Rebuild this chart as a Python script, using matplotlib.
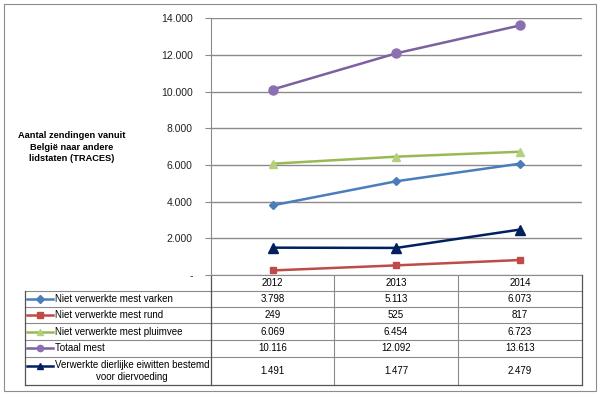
import matplotlib.pyplot as plt
from matplotlib.lines import Line2D
from matplotlib.ticker import FuncFormatter

plt.rcParams['font.family'] = ['Liberation Sans', 'DejaVu Sans']

# gegevens
jaren = ['2012', '2013', '2014']
varken = [3798, 5113, 6073]
rund = [249, 525, 817]
pluimvee = [6069, 6454, 6723]
totaal = [10116, 12092, 13613]
eiwitten = [1491, 1477, 2479]
namen = ['Niet verwerkte mest varken', 'Niet verwerkte mest rund',
         'Niet verwerkte mest pluimvee', 'Totaal mest',
         'Verwerkte dierlijke eiwitten bestemd\nvoor diervoeding']
reeksen = [varken, rund, pluimvee, totaal, eiwitten]

# stijl per reeks: kleur, marker, grootte, markerkleur
stijlen = [('#4A7EBB', 'D', 4, '#4A7EBB'),
           ('#BE4B48', 's', 5, '#BE4B48'),
           ('#98B954', '^', 5.5, '#B5D07A'),
           ('#7D60A0', 'o', 6.5, '#8C6FB0'),
           ('#00205F', '^', 7, '#00205F')]

W, H = 600, 399
fig = plt.figure(figsize=(W / 100, H / 100), dpi=100)

# achtergrond in pixelcoordinaten
bg = fig.add_axes([0, 0, 1, 1])
bg.set_xlim(0, W)
bg.set_ylim(H, 0)
bg.axis('off')
bg.add_patch(plt.Rectangle((3.5, 3.5), 592, 387, fill=False, ec='#8c8c8c', lw=0.8))

# plotgebied
x0, x1, ytop, ybot = 210.7, 582, 18.3, 275
ax = fig.add_axes([x0 / W, (H - ybot) / H, (x1 - x0) / W, (ybot - ytop) / H])
ax.set_xlim(-0.5, 2.5)
ax.set_ylim(0, 14000)
ax.set_yticks(range(0, 14001, 2000))
ax.yaxis.set_major_formatter(FuncFormatter(
    lambda v, p: '-' if v == 0 else f'{int(v):,}'.replace(',', '.')))
ax.set_xticks([])
ax.grid(axis='y', color='#8a8a8a', lw=1)
ax.set_axisbelow(True)
for s in ['top', 'right', 'bottom']:
    ax.spines[s].set_visible(False)
ax.spines['left'].set_color('#8a8a8a')
ax.tick_params(axis='y', length=4, color='#8a8a8a', labelsize=7.5, pad=9, labelcolor='#222222')

for data, (kl, mk, ms, mf) in zip(reeksen, stijlen):
    ax.plot(range(len(jaren)), data, color=kl, lw=1.8, marker=mk, ms=ms,
            mfc=mf, mec=mf, clip_on=False)

# as-titel
bg.text(72, 147, 'Aantal zendingen vanuit\nBelgië naar andere\nlidstaten (TRACES)',
        ha='center', va='center', fontsize=6.7, fontweight='bold', linespacing=1.35)

# tabel
rijen = [275, 290.7, 307.3, 323.3, 340, 356.7, 385]
kolommen = [24.5, 210.7, 334, 458, 582]
lijn = '#8a8a8a'
for y in rijen[1:-1]:
    bg.plot([24.5, 582], [y, y], color=lijn, lw=0.8)
bg.plot([210.7, 582], [275, 275], color=lijn, lw=0.8)
for x in kolommen[2:-1]:
    bg.plot([x, x], [275, 385], color=lijn, lw=0.8)
bg.plot([210.7, 210.7], [275, 385], color='#555555', lw=0.9)
bg.plot([582, 582], [275, 385], color='#555555', lw=0.9)
bg.plot([24.5, 24.5], [290.7, 385], color='#555555', lw=0.9)
bg.plot([24.5, 582], [385, 385], color='#555555', lw=0.9)

for j, jaar in enumerate(jaren):
    xc = (kolommen[j + 1] + kolommen[j + 2]) / 2
    bg.text(xc, (rijen[0] + rijen[1]) / 2, jaar, ha='center', va='center', fontsize=7)

for i, (naam, data, (kl, mk, ms, mf)) in enumerate(zip(namen, reeksen, stijlen)):
    yc = (rijen[i + 1] + rijen[i + 2]) / 2
    yl = yc if i < 4 else 366
    bg.add_line(Line2D([27, 53], [yl, yl], color=kl, lw=1.8))
    bg.plot([40], [yl], marker=mk, ms=4 if mk != 'o' else 4.5, color=mf, mec=mf)
    if i < 4:
        bg.text(55, yc, naam, ha='left', va='center', fontsize=7)
    else:
        bg.text(55, yc, naam, ha='left', va='center', fontsize=7,
                multialignment='center', linespacing=1.3)
    for j, v in enumerate(data):
        xc = (kolommen[j + 1] + kolommen[j + 2]) / 2
        bg.text(xc, yc, f'{v:,}'.replace(',', '.'), ha='center', va='center', fontsize=7)

fig.savefig('out.png', dpi=100)
